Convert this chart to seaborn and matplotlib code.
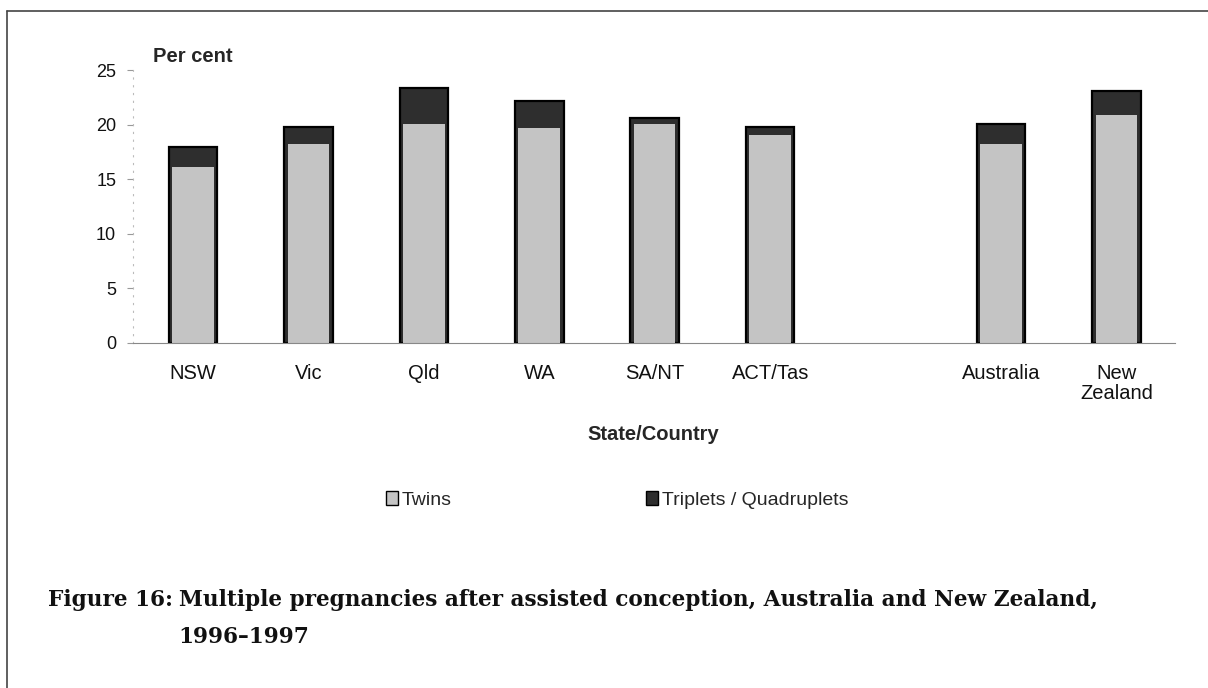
import seaborn as sns
import matplotlib.pyplot as plt
import pandas as pd
from matplotlib.lines import Line2D
from matplotlib.patches import Patch

# Data (per cent of pregnancies)
regions = ['NSW', 'Vic', 'Qld', 'WA', 'SA/NT', 'ACT/Tas', 'Australia', 'New Zealand']
twins = [16.1, 18.2, 20.1, 19.7, 20.1, 19.1, 18.2, 20.9]
triplets = [1.9, 1.6, 3.3, 2.5, 0.5, 0.7, 1.9, 2.2]
# empty slot between the states and the countries
slot_order = ['NSW', 'Vic', 'Qld', 'WA', 'SA/NT', 'ACT/Tas', ' ', 'Australia', 'New Zealand']
tick_labels = ['NSW', 'Vic', 'Qld', 'WA', 'SA/NT', 'ACT/Tas', '', 'Australia', 'New\nZealand']

df = pd.DataFrame({'region': regions, 'twins': twins, 'triplets': triplets})
df['total'] = df['twins'] + df['triplets']

sns.set_theme(style='white')
plt.rcParams['font.family'] = ['Liberation Sans', 'DejaVu Sans']

fig = plt.figure(figsize=(12.08, 6.88), dpi=100)
ax = fig.add_axes([0.110, 0.5015, 0.863, 0.3965])

light = '#c4c4c4'
dark = '#2e2e2e'
# stacked: draw the total in dark, then twins in light on top of it
sns.barplot(data=df, x='region', y='total', order=slot_order, color=dark,
            width=0.42, edgecolor='black', linewidth=1.6, saturation=1, ax=ax)
sns.barplot(data=df, x='region', y='twins', order=slot_order, color=light,
            width=0.36, edgecolor='none', linewidth=0, saturation=1, ax=ax)

ax.set_ylim(0, 25)
ax.set_xlim(-0.52, 8.51)
ax.set_yticks([0, 5, 10, 15, 20, 25])
ax.set_xticks(range(len(slot_order)))
ax.set_xticklabels(tick_labels, fontsize=14.5, color='#111111', linespacing=1.05)
ax.tick_params(axis='y', labelsize=13, left=True, length=4, width=0.8,
               color='#999999', labelcolor='#111111', pad=8)
ax.tick_params(axis='x', bottom=False, pad=9)
ax.set_xlabel('')
ax.set_ylabel('')

for side in ['top', 'right']:
    ax.spines[side].set_visible(False)
# faint dotted value axis as in the scan
ax.spines['left'].set_color('#bbbbbb')
ax.spines['left'].set_linewidth(0.8)
ax.spines['left'].set_linestyle((0, (1, 6)))
ax.spines['bottom'].set_color('#888888')
ax.spines['bottom'].set_linewidth(0.8)

# axis titles
fig.text(0.127, 0.918, 'Per cent', fontsize=14.5, fontweight='bold', ha='left', va='center')
fig.text(0.541, 0.368, 'State/Country', fontsize=14.5, fontweight='bold', ha='center', va='center')

# legend
handles = [Patch(facecolor=light, edgecolor='black', linewidth=1),
           Patch(facecolor=dark, edgecolor='black', linewidth=1)]
fig.legend(handles, ['Twins', 'Triplets / Quadruplets'], ncol=2, frameon=False,
           loc='center', bbox_to_anchor=(0.511, 0.273), fontsize=14,
           handlelength=0.6, handleheight=0.7, handletextpad=0.2, columnspacing=10.0)

# caption
cap_font = dict(fontsize=15.6, fontweight='bold', family='DejaVu Serif', color='#111111',
                ha='left', va='center')
fig.text(0.040, 0.128, 'Figure 16:', **cap_font)
fig.text(0.148, 0.128, 'Multiple pregnancies after assisted conception, Australia and New Zealand,',
         **cap_font)
fig.text(0.148, 0.074, '1996\u20131997', **cap_font)

# frame lines (top and left)
fig.add_artist(Line2D([0.006, 1.0], [0.984, 0.984], color='#444444', linewidth=1.2))
fig.add_artist(Line2D([0.006, 0.006], [0.0, 0.984], color='#444444', linewidth=1.2))

fig.savefig('out.png', dpi=100, facecolor='white')
